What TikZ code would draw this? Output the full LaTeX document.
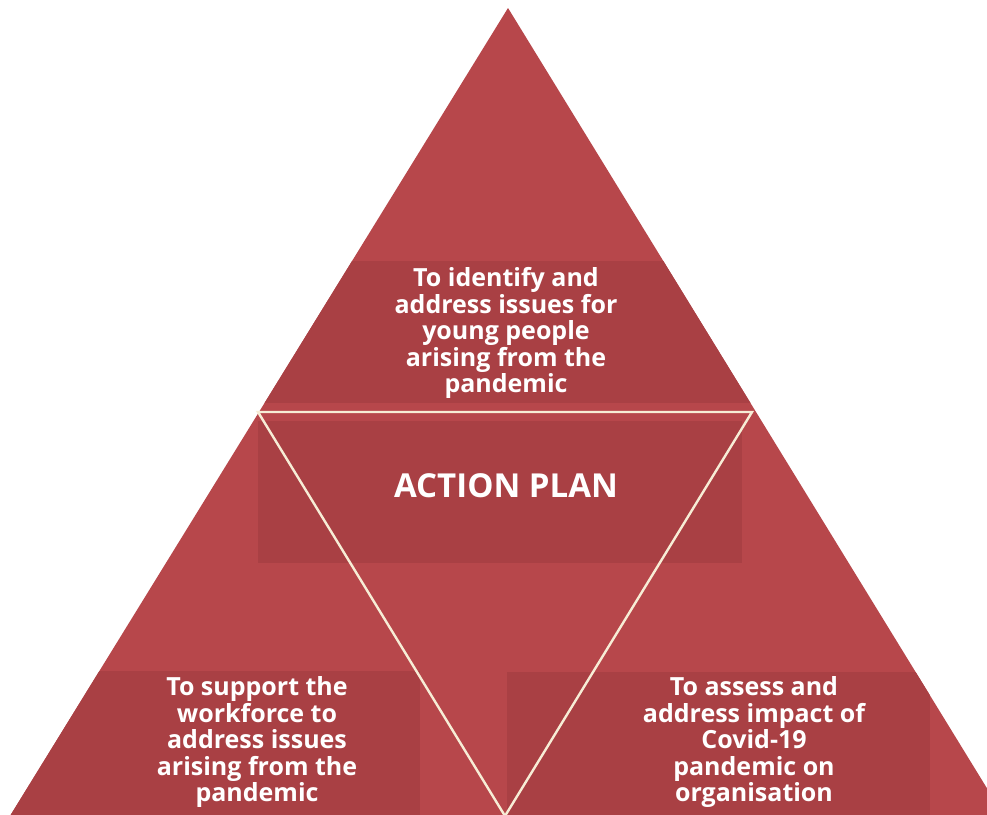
\documentclass[tikz,border=0pt]{standalone}
\usepackage{fontspec}
\setmainfont{Open Sans}
\definecolor{tri}{HTML}{B7474B}
\definecolor{band}{HTML}{A94044}
\definecolor{rule}{HTML}{F7EDD6}
\begin{document}
\begin{tikzpicture}[x=1pt,y=-1pt,
  lbl/.style={text=white,font=\bfseries\fontsize{25}{26.5}\selectfont,align=center,inner sep=0pt},
  big/.style={text=white,font=\bfseries\fontsize{33}{36}\selectfont,inner sep=0pt},
  sep/.style={draw=rule,line width=2.4pt}]
\useasboundingbox (0,0) rectangle (987,814);
\fill[white] (0,0) rectangle (987,814);
\coordinate (apex) at (508,8);
\coordinate (bl) at (10,816);
\coordinate (br) at (1004,816);
\coordinate (ml) at (258,412);
\coordinate (mr) at (752,412);
\coordinate (mb) at (505,816);
\fill[tri] (apex) -- (bl) -- (br) -- cycle;
\begin{scope}
  \clip (apex) -- (bl) -- (br) -- cycle;
  \fill[band] (240,261) rectangle (770,403);
  \fill[band] (258,421) rectangle (742,563);
  \fill[band] (0,671) rectangle (420,816);
  \fill[band] (507,672) rectangle (930,816);
\end{scope}
\draw[sep] (ml) -- (mr) -- (mb) -- cycle;
\node[lbl] (top) at (506,333) {To identify and\\address issues for\\young people\\arising from the\\pandemic};
\node[big] (mid) at (506,486) {ACTION PLAN};
\node[lbl] (left) at (257,742) {To support the\\workforce to\\address issues\\arising from the\\pandemic};
\node[lbl] (right) at (754,742) {To assess and\\address impact of\\Covid-19\\pandemic on\\organisation};
\end{tikzpicture}
\end{document}
